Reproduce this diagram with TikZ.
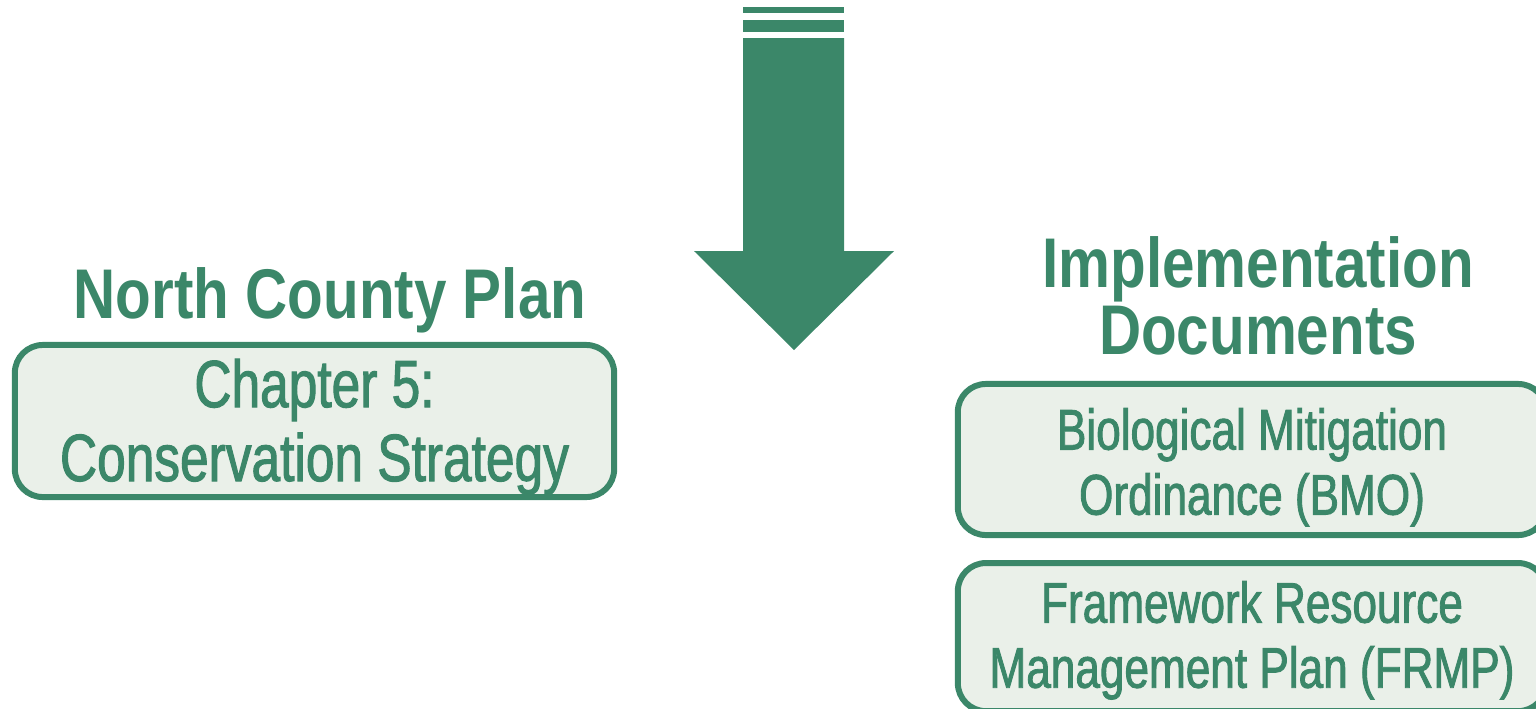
\documentclass[tikz,border=0pt]{standalone}
\usepackage{fontspec}
\setmainfont{Liberation Sans}[FakeStretch=0.8]
\newfontfamily\headfont{Liberation Sans}[FakeStretch=0.83]
\newfontfamily\boxfont{Liberation Sans}[FakeStretch=0.77, FakeBold=1.5]
\usetikzlibrary{positioning}
\definecolor{plangreen}{HTML}{3B8769}
\definecolor{planfill}{HTML}{EAF0E9}
% extra room above the first line of a box text
\newcommand{\topgap}[1]{\rule{0pt}{#1}}

\begin{document}
\begin{tikzpicture}[
    % one unit = one pixel of the layout
    x=0.01cm, y=-0.01cm,
    node distance = 0.22cm,
    every node/.style={text=plangreen}
  ]

  % --- Style Definitions ---
  \tikzset{
    docbox/.style={
      draw=plangreen,
      fill=planfill,
      line width=1.7pt,
      rounded corners=0.28cm,
      align=center,
      inner sep=0pt
    },
    heading/.style={
      font=\headfont\bfseries\fontsize{20}{17}\selectfont,
      align=center
    },
    boxtext/.style={
      font=\boxfont\fontsize{16.3}{18.5}\selectfont
    }
  }

  \useasboundingbox (0,0) rectangle (1536,708);
  \clip (0,0) rectangle (1536,708);

  % --- Big arrow ---
  \fill[plangreen] (743,7) rectangle (844,13);
  \fill[plangreen] (743,20) rectangle (844,32);
  \fill[plangreen] (743,38) -- (743,251) -- (694,251) -- (794,350)
    -- (894,251) -- (844,251) -- (844,38) -- cycle;

  % --- Left side ---
  \node[docbox, minimum width=5.99cm, minimum height=1.52cm,
    font=\boxfont\fontsize{19}{21}\selectfont] (chapter) at (314.5,421)
    {\topgap{0.6cm}Chapter 5:\\Conservation Strategy};
  \node[heading, anchor=base] (ncp) at (330,318) {North County Plan};

  % --- Right side ---
  \node[heading] (impl) at (1258,296) {Implementation\\Documents};
  \node[docbox, boxtext, minimum width=5.88cm, minimum height=1.51cm]
    (bmo) at (1252,459.5) {\topgap{0.57cm}Biological Mitigation\\Ordinance (BMO)};
  \node[docbox, boxtext, minimum width=5.88cm, minimum height=1.48cm]
    (frmp) [below=of bmo] {\topgap{0.48cm}Framework Resource\\Management Plan (FRMP)};

\end{tikzpicture}
\end{document}
